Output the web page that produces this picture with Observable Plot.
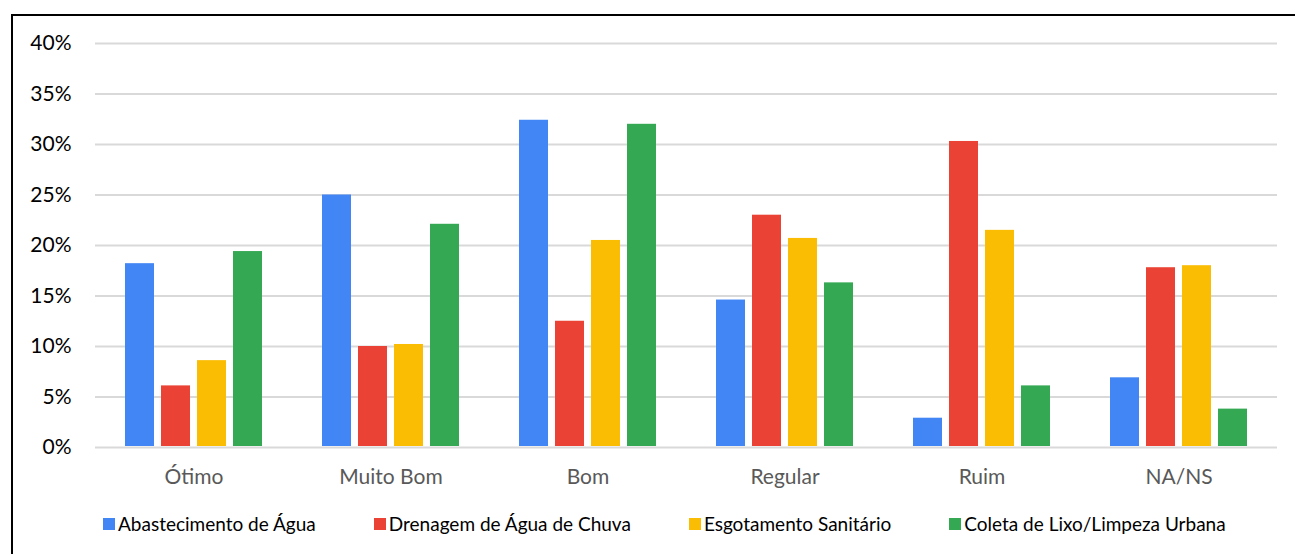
<!DOCTYPE html>
<html><head><meta charset="utf-8">
<script src="https://cdn.jsdelivr.net/npm/d3@7"></script>
<script src="https://cdn.jsdelivr.net/npm/@observablehq/plot@0.6"></script>
<style>
html,body{margin:0;padding:0;background:#fff;width:1295px;height:554px;overflow:hidden;}
body{position:relative;font-family:Lato,"Open Sans",sans-serif;}
#frame{position:absolute;left:11px;top:14px;width:1320px;height:600px;border:2px solid #000;box-sizing:border-box;}
#chart{position:absolute;left:0;top:0;}
#legend{position:absolute;top:512px;left:103px;display:flex;gap:58px;font-size:19px;color:#000;white-space:nowrap;}
#legend .item{display:flex;align-items:center;}
#legend .sw{width:12px;height:12px;margin-right:3px;display:inline-block;}
</style></head><body>
<div id="frame"></div>
<div id="chart"></div>
<div id="legend"></div>
<script>
const categories = ["Ótimo", "Muito Bom", "Bom", "Regular", "Ruim", "NA/NS"];
const seriesNames = ["Abastecimento de Água", "Drenagem de Água de Chuva", "Esgotamento Sanitário", "Coleta de Lixo/Limpeza Urbana"];
const seriesColors = ["#4285F4", "#EA4335", "#FBBC04", "#34A853"];
const abastecimento = [18.2, 25.0, 32.4, 14.6, 2.9, 6.9];
const drenagem = [6.1, 10.0, 12.5, 23.0, 30.3, 17.8];
const esgotamento = [8.6, 10.2, 20.5, 20.7, 21.5, 18.0];
const coleta = [19.4, 22.1, 32.0, 16.3, 6.1, 3.8];
const yTicks = [0, 5, 10, 15, 20, 25, 30, 35, 40];

const seriesValues = [abastecimento, drenagem, esgotamento, coleta];
const data = [];
categories.forEach((c, i) => {
  seriesNames.forEach((s, j) => data.push({category: c, series: s, value: seriesValues[j][i] / 100}));
});

const plot = Plot.plot({
  width: 1295,
  height: 500,
  marginLeft: 92,
  marginRight: 16,
  marginTop: 43,
  marginBottom: 53,
  style: {fontFamily: "Lato, 'Open Sans', sans-serif", background: "transparent"},
  fx: {domain: categories, paddingInner: 0, paddingOuter: 0, label: null},
  x: {domain: seriesNames, paddingInner: 0.2, paddingOuter: 0.83, axis: null},
  y: {domain: [0, 0.40], ticks: yTicks.map(d => d / 100), label: null},
  color: {domain: seriesNames, range: seriesColors},
  marks: [
    Plot.ruleY(yTicks.map(d => d / 100), {stroke: "#d9d9d9", strokeWidth: 2}),
    Plot.barY(data, {fx: "category", x: "series", y: "value", fill: "series", insetBottom: 1}),
    Plot.axisY(yTicks.map(d => d / 100), {tickSize: 0, tickPadding: 24, tickFormat: d => Math.round(d * 100) + "%", fontSize: 21, fill: "#000", label: null}),
    Plot.axisFx({anchor: "bottom", tickSize: 0, tickPadding: 22, fontSize: 21, fill: "#595959", label: null})
  ]
});
document.getElementById("chart").appendChild(plot);

const legend = document.getElementById("legend");
seriesNames.forEach((s, j) => {
  const it = document.createElement("div");
  it.className = "item";
  const sw = document.createElement("span");
  sw.className = "sw";
  sw.style.background = seriesColors[j];
  const t = document.createElement("span");
  t.textContent = s;
  it.appendChild(sw); it.appendChild(t);
  legend.appendChild(it);
});
</script>
</body></html>
